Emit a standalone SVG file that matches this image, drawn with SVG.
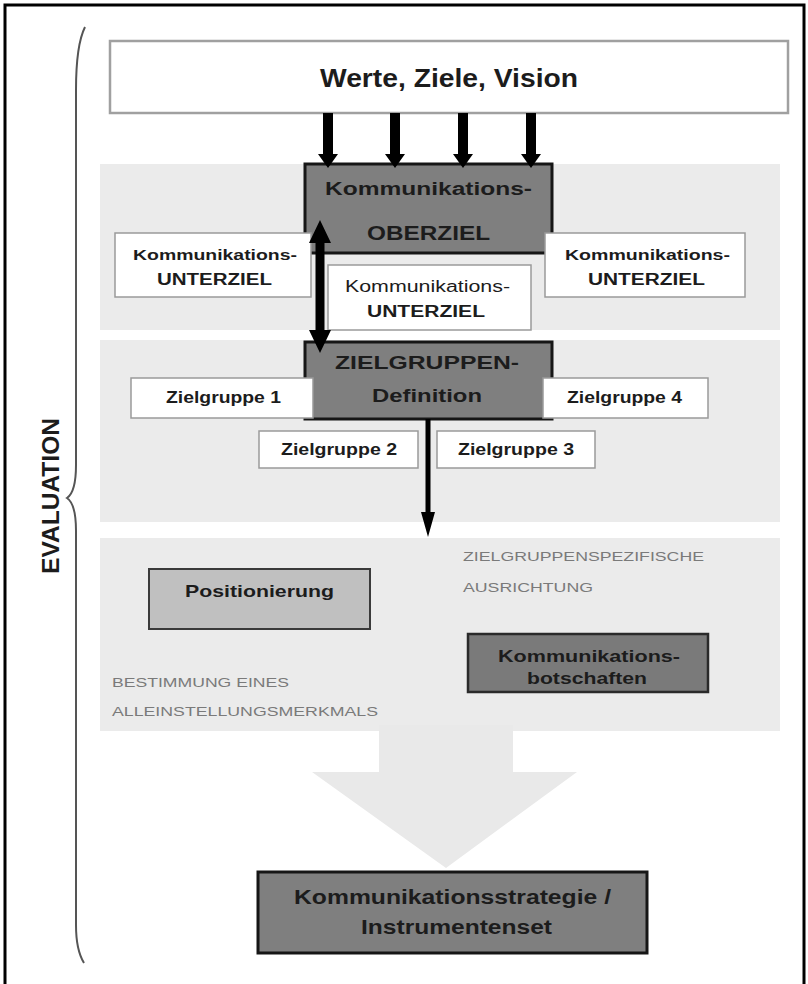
<svg xmlns="http://www.w3.org/2000/svg" width="808" height="984" viewBox="0 0 808 984">
<style>
text{font-family:"Liberation Sans",Arial,sans-serif;fill:#1c1c1c;text-anchor:middle}
.b{font-weight:bold}
.band{fill:#ebebeb}
.wbox{fill:#ffffff;stroke:#9a9a9a;stroke-width:1.5}
.dbox{fill:#7f7f7f;stroke:#161616;stroke-width:3}
.gt{fill:#7a7a7a;font-size:13px;text-anchor:start}
.arr{fill:#000}
</style>
<defs>
<path id="topArrow" d="M-5,113 L5,113 L5,154 L10,154 L0,168 L-10,154 L-5,154 Z"/>
</defs>
<rect x="5" y="5" width="799" height="1000" fill="#ffffff" stroke="#000" stroke-width="3"/>
<g id="bands">
<rect class="band" x="100" y="164" width="680" height="166"/>
<rect class="band" x="100" y="340" width="680" height="182"/>
<rect class="band" x="100" y="538" width="680" height="193"/>
<polygon points="379,725 513,725 513,772 577,772 446,868 312,772 379,772" fill="#e9e9e9"/>
</g>
<g id="evaluation">
<path d="M85,27 Q76,45 76,90 L76,465 Q76,492 67,498 Q76,504 76,531 L76,925 Q76,950 84,963" fill="none" stroke="#555" stroke-width="2"/>
<text class="b" transform="translate(59,496) rotate(-90)" font-size="23" textLength="156" lengthAdjust="spacingAndGlyphs" fill="#2a2a2a">EVALUATION</text>
</g>
<g id="werte">
<rect x="110" y="41" width="678" height="72" fill="#fff" stroke="#a0a0a0" stroke-width="2.5"/>
<text class="b" x="449" y="87" font-size="26" textLength="258" lengthAdjust="spacingAndGlyphs">Werte, Ziele, Vision</text>
</g>
<g id="oberziel">
<rect class="dbox" x="305" y="164" width="247" height="89"/>
<text class="b" x="428.5" y="195" font-size="18" textLength="207" lengthAdjust="spacingAndGlyphs">Kommunikations-</text>
<text class="b" x="428.5" y="240" font-size="20" textLength="123" lengthAdjust="spacingAndGlyphs">OBERZIEL</text>
</g>
<g id="unterziel-links">
<rect class="wbox" x="115" y="233" width="196" height="64"/>
<text class="b" x="215" y="260" font-size="15.5" textLength="164" lengthAdjust="spacingAndGlyphs">Kommunikations-</text>
<text class="b" x="214.5" y="285" font-size="16" textLength="115" lengthAdjust="spacingAndGlyphs">UNTERZIEL</text>
</g>
<g id="unterziel-rechts">
<rect class="wbox" x="545" y="233" width="200" height="64"/>
<text class="b" x="647.5" y="260" font-size="15.5" textLength="165" lengthAdjust="spacingAndGlyphs">Kommunikations-</text>
<text class="b" x="646.5" y="285" font-size="16" textLength="117" lengthAdjust="spacingAndGlyphs">UNTERZIEL</text>
</g>
<g id="unterziel-mitte">
<rect class="wbox" x="328" y="265" width="203" height="65"/>
<text x="427.5" y="292" font-size="16" textLength="165" lengthAdjust="spacingAndGlyphs">Kommunikations-</text>
<text class="b" x="426" y="317" font-size="16" textLength="118" lengthAdjust="spacingAndGlyphs">UNTERZIEL</text>
</g>
<g id="zielgruppen-definition">
<rect class="dbox" x="305" y="342" width="247" height="77"/>
<text class="b" x="427" y="369" font-size="19" textLength="184" lengthAdjust="spacingAndGlyphs">ZIELGRUPPEN-</text>
<text class="b" x="427" y="402" font-size="18" textLength="110" lengthAdjust="spacingAndGlyphs">Definition</text>
</g>
<g id="zielgruppe1">
<rect class="wbox" x="131" y="378" width="182" height="40"/>
<text class="b" x="223.5" y="403" font-size="16" textLength="115" lengthAdjust="spacingAndGlyphs">Zielgruppe 1</text>
</g>
<g id="zielgruppe4">
<rect class="wbox" x="543" y="378" width="165" height="40"/>
<text class="b" x="624.5" y="403" font-size="16" textLength="115" lengthAdjust="spacingAndGlyphs">Zielgruppe 4</text>
</g>
<g id="zielgruppe2">
<rect class="wbox" x="259" y="431" width="159" height="37"/>
<text class="b" x="339" y="455" font-size="16" textLength="116" lengthAdjust="spacingAndGlyphs">Zielgruppe 2</text>
</g>
<g id="zielgruppe3">
<rect class="wbox" x="437" y="431" width="158" height="37"/>
<text class="b" x="516" y="455" font-size="16" textLength="116" lengthAdjust="spacingAndGlyphs">Zielgruppe 3</text>
</g>
<g id="positionierung">
<rect x="149" y="569" width="221" height="60" fill="#c0c0c0" stroke="#3a3a3a" stroke-width="2"/>
<text class="b" x="259.5" y="597" font-size="17" textLength="149" lengthAdjust="spacingAndGlyphs">Positionierung</text>
</g>
<g id="zielgruppenspezifisch">
<text class="gt" x="463" y="561" textLength="241" lengthAdjust="spacingAndGlyphs">ZIELGRUPPENSPEZIFISCHE</text>
<text class="gt" x="463" y="592" textLength="130" lengthAdjust="spacingAndGlyphs">AUSRICHTUNG</text>
</g>
<g id="alleinstellung">
<text class="gt" x="112" y="687" textLength="177" lengthAdjust="spacingAndGlyphs">BESTIMMUNG EINES</text>
<text class="gt" x="112" y="716" textLength="266" lengthAdjust="spacingAndGlyphs">ALLEINSTELLUNGSMERKMALS</text>
</g>
<g id="botschaften">
<rect x="468" y="634" width="240" height="58" fill="#7a7a7a" stroke="#2a2a2a" stroke-width="2.5"/>
<text class="b" x="589" y="662" font-size="17" textLength="182" lengthAdjust="spacingAndGlyphs">Kommunikations-</text>
<text class="b" x="587" y="684" font-size="17" textLength="120" lengthAdjust="spacingAndGlyphs">botschaften</text>
</g>
<g id="strategie">
<rect class="dbox" x="258" y="872" width="389" height="81"/>
<text class="b" x="452.5" y="904" font-size="20" textLength="317" lengthAdjust="spacingAndGlyphs">Kommunikationsstrategie /</text>
<text class="b" x="456.5" y="934" font-size="20" textLength="191" lengthAdjust="spacingAndGlyphs">Instrumentenset</text>
</g>
<g id="connectors">
<use href="#topArrow" x="328" class="arr"/>
<use href="#topArrow" x="395" class="arr"/>
<use href="#topArrow" x="463" class="arr"/>
<use href="#topArrow" x="531" class="arr"/>
<polygon class="arr" points="320,220 331,243 324.5,243 324.5,330 331,330 320,353 309,330 315.5,330 315.5,243 309,243"/>
<polygon class="arr" points="425.5,419 430.5,419 430.5,512 435,512 428,537 421,512 425.5,512"/>
</g>
</svg>
